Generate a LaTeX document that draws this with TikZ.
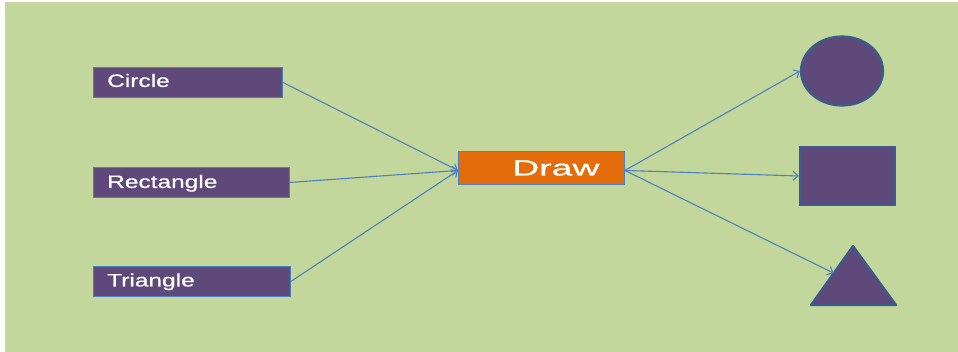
\documentclass[tikz,border=0pt]{standalone}
\usepackage{fontspec}
\setmainfont{Liberation Sans}
\newfontfamily\lblfont[FakeBold=0.6]{Liberation Sans}
\usepackage{graphicx}
\usetikzlibrary{arrows.meta,calc,shapes.geometric}
\definecolor{bggreen}{HTML}{C3D69B}
\definecolor{boxpurple}{HTML}{5F497A}
\definecolor{linkblue}{HTML}{4F81BD}
\definecolor{shapeblue}{HTML}{385D8A}
\definecolor{draworange}{HTML}{E46C0A}
\tikzset{
  inbox/.style={draw=linkblue, line width=0.9pt, fill=boxpurple, inner sep=0pt, anchor=north west, minimum height=30pt},
  drawbox/.style={draw=linkblue, line width=0.9pt, fill=draworange, inner sep=0pt, anchor=north west, minimum width=166pt, minimum height=33pt},
  lbl/.style={text=white, font=\lblfont\fontsize{18}{18}\selectfont, inner sep=0pt, anchor=base west},
  biglbl/.style={text=white, font=\lblfont\fontsize{22}{22}\selectfont, inner sep=0pt, anchor=base west},
  link/.style={draw=linkblue, line width=1.1pt, -{Straight Barb[length=5pt,width=9pt]}},
  outshape/.style={draw=shapeblue, line width=2.2pt, fill=boxpurple}
}
\begin{document}
\begin{tikzpicture}[x=1pt,y=-1pt]
\useasboundingbox (0,0) rectangle (958,352);
\fill[white] (0,0) rectangle (958,352);
\fill[bggreen] (5,2) rectangle (958,352);

% input boxes
\node[inbox, minimum width=189pt] (circ) at (93,67) {};
\node[lbl] (circt) at ([xshift=14pt,yshift=-4.5pt]circ.west) {\scalebox{1.36}[1]{Circle}};
\node[inbox, minimum width=196pt] (rect) at (93,167) {};
\node[lbl] (rectt) at ([xshift=14pt,yshift=-5.5pt]rect.west) {\scalebox{1.36}[1]{Rectangle}};
\node[inbox, minimum width=197pt] (tri) at (93,266) {};
\node[lbl] (trit) at ([xshift=14pt,yshift=-5pt]tri.west) {\scalebox{1.36}[1]{Triangle}};

% Draw box
\node[drawbox] (dr) at (458,151) {};
\node[biglbl] (drt) at ([xshift=54pt,yshift=-7.5pt]dr.west) {\scalebox{1.7}[1]{Draw}};
\coordinate (drin) at ([yshift=-2.5pt]dr.west);
\coordinate (drout) at ([yshift=-2.5pt]dr.east);

% output shapes
\node[outshape, ellipse, minimum width=82pt, minimum height=69pt, inner sep=0pt] (oc) at (842,71) {};
\node[outshape, rectangle, minimum width=95pt, minimum height=58pt, inner sep=0pt] (orr) at (847.5,176) {};
\coordinate (ta) at (853,246);
\coordinate (tl) at (811,305);
\coordinate (tr) at (896,305);
\filldraw[outshape, line join=round] (ta) -- (tl) -- (tr) -- cycle;
\coordinate (tin) at ($(tl)!0.54!(ta)$);

% connectors
\draw[link] (circ.east) -- (drin);
\draw[link] (rect.east) -- (drin);
\draw[link] (tri.east) -- (drin);
\draw[link] (drout) -- (oc.west);
\draw[link] (drout) -- (orr.west);
\draw[link] (drout) -- (tin);
\end{tikzpicture}
\end{document}
